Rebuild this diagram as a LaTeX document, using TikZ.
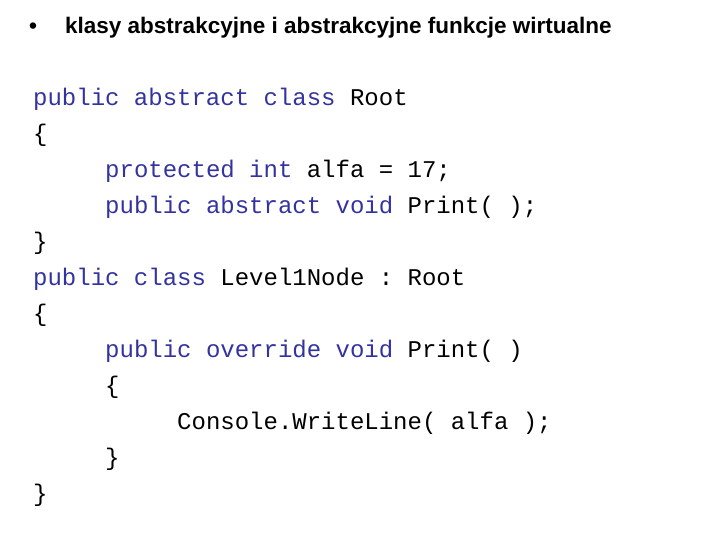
\documentclass[tikz,border=0pt]{standalone}
\usepackage{fontspec}
\setmainfont{Liberation Sans}
\newfontfamily\codefont{Liberation Mono}
\definecolor{kw}{RGB}{51,51,160}
\frenchspacing
\begin{document}
\begin{tikzpicture}[x=1pt,y=-1pt,
  code/.style={anchor=west,inner sep=0pt,font=\frenchspacing\codefont\fontsize{24}{24}\selectfont},
  title/.style={anchor=west,inner sep=0pt,font=\fontsize{22.5}{22.5}\selectfont\bfseries}]
\useasboundingbox (0,0) rectangle (720,540);
\node[title] (bul) at (29,28) {\textbullet};
\node[title] (t) at (65,28) {klasy abstrakcyjne i abstrakcyjne funkcje wirtualne};
\node[code] (l1) at (33,99) {\textcolor{kw}{public abstract class} Root};
\node[code] (l2) at (33,135) {\{};
\node[code] (l3) at (105,171) {\textcolor{kw}{protected int} alfa = 17;};
\node[code] (l4) at (105,207) {\textcolor{kw}{public abstract void} Print( );};
\node[code] (l5) at (33,243) {\}};
\node[code] (l6) at (33,279) {\textcolor{kw}{public class} Level1Node : Root};
\node[code] (l7) at (33,315) {\{};
\node[code] (l8) at (105,351) {\textcolor{kw}{public override void} Print( )};
\node[code] (l9) at (105,387) {\{};
\node[code] (l10) at (177,423) {Console.WriteLine( alfa );};
\node[code] (l11) at (105,459) {\}};
\node[code] (l12) at (33,495) {\}};
\end{tikzpicture}
\end{document}
